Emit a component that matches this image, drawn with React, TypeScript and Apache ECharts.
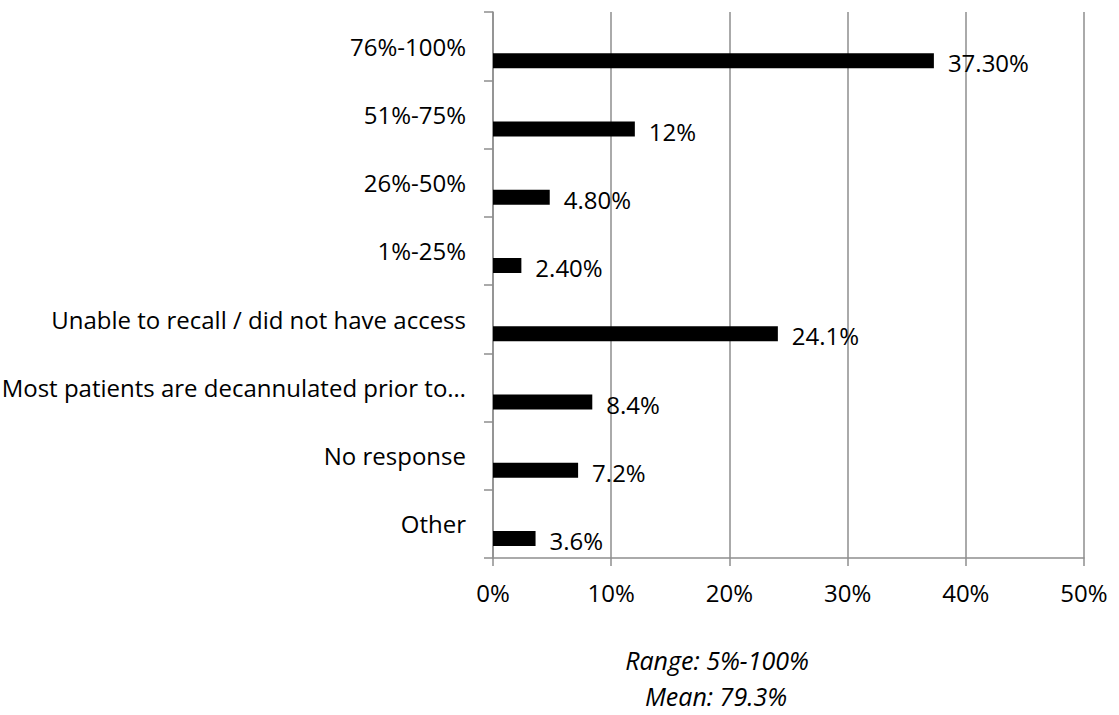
import React, { useEffect, useRef } from "react";
import * as echarts from "echarts";

// Share of patients, by response band (top to bottom)
const categories = [
  "76%-100%",
  "51%-75%",
  "26%-50%",
  "1%-25%",
  "Unable to recall / did not have access",
  "Most patients are decannulated prior to…",
  "No response",
  "Other",
];
const values = [37.3, 12, 4.8, 2.4, 24.1, 8.4, 7.2, 3.6];
const valueLabels = ["37.30%", "12%", "4.80%", "2.40%", "24.1%", "8.4%", "7.2%", "3.6%"];
const xTicks = [0, 10, 20, 30, 40, 50];
const notes = ["Range: 5%-100%", "Mean: 79.3%"];

const FONT = "'Open Sans', Lato, sans-serif";
const FONT_SIZE = 24;
const NOTE_SIZE = 25;
const GRID_GRAY = "#8e8e8e";

export default function App() {
  const ref = useRef<HTMLDivElement>(null);

  useEffect(() => {
    if (!ref.current) return;
    const chart = echarts.init(ref.current, undefined, { renderer: "svg" });
    const noteStyle = {
      fontSize: NOTE_SIZE,
      lineHeight: NOTE_SIZE,
      fontStyle: "italic",
      fontFamily: FONT,
      fill: "#000",
      align: "center",
      verticalAlign: "middle",
    };
    chart.setOption({
      animation: false,
      backgroundColor: "#ffffff",
      textStyle: { fontFamily: FONT },
      grid: {
        left: 493,
        right: 35,
        top: 12,
        bottom: 157,
        containLabel: false,
        outerBoundsMode: "none",
      },
      xAxis: {
        type: "value",
        min: xTicks[0],
        max: xTicks[xTicks.length - 1],
        interval: 10,
        axisLine: { show: true, lineStyle: { color: GRID_GRAY, width: 1.5 } },
        axisTick: { show: true, length: 8, lineStyle: { color: GRID_GRAY, width: 1.5 } },
        splitLine: { show: true, lineStyle: { color: GRID_GRAY, width: 1.5 } },
        axisLabel: {
          formatter: "{value}%",
          color: "#000",
          fontSize: FONT_SIZE,
          fontFamily: FONT,
          margin: 22,
        },
      },
      yAxis: {
        type: "category",
        inverse: true,
        data: categories,
        axisLine: { show: true, lineStyle: { color: GRID_GRAY, width: 1.5 } },
        axisTick: { show: true, length: 9, lineStyle: { color: GRID_GRAY, width: 1.5 } },
        splitLine: { show: false },
        axisLabel: {
          color: "#000",
          fontSize: FONT_SIZE,
          fontFamily: FONT,
          margin: 27,
        },
      },
      series: [
        {
          // empty companion series: keeps the bars in the lower half of each band
          type: "bar",
          name: "spacer",
          data: categories.map(() => null),
          barWidth: 15,
          barGap: "96%",
          silent: true,
        },
        {
          type: "bar",
          name: "Share",
          data: values,
          barWidth: 15,
          barGap: "96%",
          itemStyle: { color: "#000000" },
          label: {
            show: true,
            position: "right",
            distance: 14,
            color: "#000",
            fontSize: FONT_SIZE,
            fontFamily: FONT,
            offset: [0, 2],
            formatter: (p: any) => valueLabels[p.dataIndex],
          },
        },
      ],
      graphic: [
        { type: "text", x: 717, y: 660, style: { ...noteStyle, text: notes[0] } },
        { type: "text", x: 716, y: 696, style: { ...noteStyle, text: notes[1] } },
      ],
    });
    return () => chart.dispose();
  }, []);

  return (
    <div
      ref={ref}
      style={{ position: "fixed", left: 0, top: 0, width: 1119, height: 715, background: "#fff" }}
    />
  );
}
